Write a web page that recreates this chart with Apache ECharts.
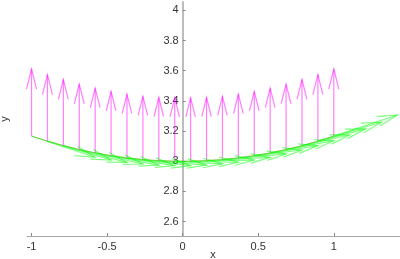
<!DOCTYPE html>
<html>
<head>
<meta charset="utf-8">
<script src="https://cdn.jsdelivr.net/npm/echarts@6/dist/echarts.min.js"></script>
<style>html,body{margin:0;padding:0;background:#fff}#c{width:400px;height:259px}</style>
</head>
<body>
<div id="c"></div>
<script>
// sample positions along x
var xs = [-1, -0.8947, -0.7895, -0.6842, -0.5789, -0.4737, -0.3684, -0.2632, -0.1579, -0.0526,
          0.0526, 0.1579, 0.2632, 0.3684, 0.4737, 0.5789, 0.6842, 0.7895, 0.8947, 1];
// curve (arrow base) values
var baseY = [3.1667, 3.1334, 3.1039, 3.0780, 3.0559, 3.0374, 3.0226, 3.0115, 3.0042, 3.0005,
             3.0005, 3.0042, 3.0115, 3.0226, 3.0374, 3.0559, 3.0780, 3.1039, 3.1334, 3.1667];
// magenta (vertical) arrow tips
var tipY = [3.611, 3.574, 3.541, 3.511, 3.484, 3.462, 3.444, 3.430, 3.422, 3.420,
            3.420, 3.422, 3.430, 3.444, 3.462, 3.484, 3.511, 3.541, 3.574, 3.611];
// green (tangent) arrow components
var greenU = [0.42, 0.42, 0.42, 0.42, 0.42, 0.42, 0.42, 0.42, 0.42, 0.42,
              0.42, 0.42, 0.42, 0.42, 0.42, 0.42, 0.42, 0.42, 0.42, 0.42];
var greenV = [-0.140, -0.125, -0.111, -0.096, -0.081, -0.066, -0.052, -0.037, -0.022, -0.007,
              0.007, 0.022, 0.037, 0.052, 0.066, 0.081, 0.096, 0.111, 0.125, 0.140];
var xTicks = [-1, -0.5, 0, 0.5, 1];
var yTicks = [2.6, 2.8, 3, 3.2, 3.4, 3.6, 3.8, 4];

var xMin = -1.03, xMax = 1.438;
var gridLeft = 27, gridRight = 0, chartW = 400;

var magentaData = xs.map(function (x, i) { return [x, baseY[i], x, tipY[i]]; });
var greenData = xs.map(function (x, i) { return [x, baseY[i], x + greenU[i], baseY[i] + greenV[i]]; });
var curveData = xs.map(function (x, i) { return [x, baseY[i]]; });

// y axis sits at x = 0: shift it from the grid's left edge
var yOffset = -((0 - xMin) / (xMax - xMin)) * (chartW - gridLeft - gridRight);

function arrowRenderer(color) {
  return function (params, api) {
    var p0 = api.coord([api.value(0), api.value(1)]);
    var p1 = api.coord([api.value(2), api.value(3)]);
    var dx = p1[0] - p0[0], dy = p1[1] - p0[1];
    var a = 0.3, b = 0.25;
    var hx = p1[0] - a * dx, hy = p1[1] - a * dy;
    var px = -dy * a * b, py = dx * a * b;
    var st = { stroke: color, lineWidth: 1.2, fill: null };
    return {
      type: 'group',
      children: [
        { type: 'polyline', shape: { points: [p0, p1] }, style: st },
        { type: 'polyline', shape: { points: [[hx + px, hy + py], p1, [hx - px, hy - py]] }, style: st }
      ]
    };
  };
}

var chart = echarts.init(document.getElementById('c'), null, { renderer: 'canvas' });
chart.setOption({
  animation: false,
  backgroundColor: '#fff',
  grid: { left: gridLeft, right: gridRight, top: 2, bottom: 23, containLabel: false, outerBoundsMode: 'none' },
  xAxis: {
    type: 'value', min: xMin, max: xMax,
    axisLine: { onZero: false, lineStyle: { color: '#a8a8a8', width: 1 } },
    axisTick: { inside: true, length: 3, lineStyle: { color: '#888' }, customValues: xTicks },
    axisLabel: { customValues: xTicks, color: '#333', fontSize: 11, fontFamily: 'Liberation Sans', margin: 5 },
    splitLine: { show: false }
  },
  yAxis: {
    type: 'value', min: 2.505, max: 4.055,
    offset: yOffset,
    axisLine: { onZero: false, lineStyle: { color: '#bdbdbd', width: 2 } },
    axisTick: { inside: true, length: 3, lineStyle: { color: '#888' }, customValues: yTicks },
    axisLabel: { customValues: yTicks, color: '#333', fontSize: 11, fontFamily: 'Liberation Sans', margin: 4 },
    splitLine: { show: false }
  },
  graphic: [{
    type: 'text', x: 5, y: 119, rotation: Math.PI / 2,
    style: { text: 'y', fill: '#333', font: '11px "Liberation Sans"', align: 'center', verticalAlign: 'middle' }
  }, {
    type: 'text', x: 213, y: 255,
    style: { text: 'x', fill: '#333', font: '11px "Liberation Sans"', align: 'center', verticalAlign: 'middle' }
  }],
  series: [
    {
      type: 'line', data: curveData, showSymbol: false, smooth: false, z: 1,
      lineStyle: { color: 'rgba(160,90,20,0.5)', width: 1 }
    },
    {
      type: 'custom', data: magentaData, renderItem: arrowRenderer('rgba(255,0,255,0.5)'), clip: false, z: 2
    },
    {
      type: 'custom', data: greenData, renderItem: arrowRenderer('rgba(0,255,0,0.5)'), clip: false, z: 3
    }
  ]
});
</script>
</body>
</html>
